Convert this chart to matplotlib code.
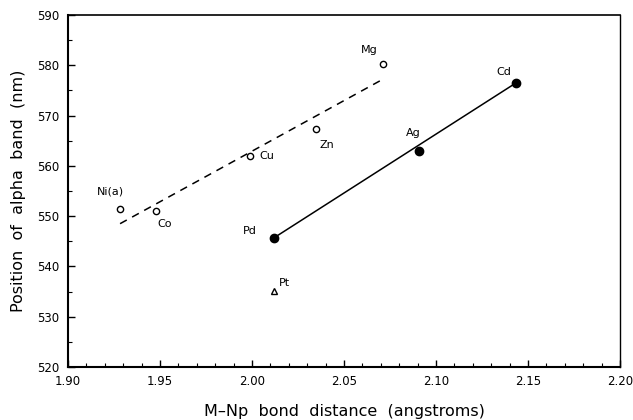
import matplotlib
matplotlib.use("Agg")
import matplotlib.pyplot as plt
from matplotlib.ticker import MultipleLocator

# Data
metals = ["Ni(a)", "Co", "Cu", "Zn", "Mg", "Pd", "Ag", "Cd", "Pt"]
distance = [1.928, 1.948, 1.999, 2.035, 2.071, 2.012, 2.091, 2.1435, 2.012]
alpha_pos = [551.4, 551.0, 562.0, 567.3, 580.2, 545.7, 563.0, 576.5, 535.2]
marker_kind = ["open", "open", "open", "open", "open", "filled", "filled", "filled", "triangle"]

# Fitted lines (endpoints)
dashed_x = [1.9283, 2.0705]
dashed_y = [548.5, 577.1]
solid_x = [2.012, 2.1435]
solid_y = [545.7, 576.5]

# Label offsets (pixels) relative to each point
label_offsets = {
    "Ni(a)": (-9, 18), "Co": (8, -13), "Cu": (17, 0), "Zn": (10, -16),
    "Mg": (-13, 14), "Cd": (-12, 11), "Ag": (-6, 18), "Pd": (-24, 7), "Pt": (10, 8),
}

fig = plt.figure(figsize=(6.33, 4.2), dpi=100)
ax = fig.add_axes([68 / 633, 1 - 367 / 420, (620 - 68) / 633, (367 - 15) / 420])

ax.plot(dashed_x, dashed_y, linestyle=(0, (5, 4)), color="black", lw=1.1)
ax.plot(solid_x, solid_y, linestyle="-", color="black", lw=1.1)

for m, x, y, k in zip(metals, distance, alpha_pos, marker_kind):
    if k == "open":
        ax.plot(x, y, marker="o", ms=4.5, mfc="white", mec="black", mew=1.0, zorder=3)
    elif k == "filled":
        ax.plot(x, y, marker="o", ms=6, mfc="black", mec="black", zorder=3)
    else:
        ax.plot(x, y, marker="^", ms=4.5, mfc="white", mec="black", mew=1.0, zorder=3)
    dx, dy = label_offsets[m]
    ax.annotate(m, (x, y), xytext=(dx, dy), textcoords="offset pixels",
                ha="center", va="center", fontsize=8)

ax.set_xlim(1.90, 2.20)
ax.set_ylim(520, 590)
ax.xaxis.set_major_locator(MultipleLocator(0.05))
ax.xaxis.set_minor_locator(MultipleLocator(0.01))
ax.yaxis.set_major_locator(MultipleLocator(10))
ax.yaxis.set_minor_locator(MultipleLocator(5))
ax.xaxis.set_major_formatter(matplotlib.ticker.FormatStrFormatter("%.2f"))
ax.tick_params(which="both", direction="in", top=False, right=False, labelsize=8.5)
ax.tick_params(which="major", length=5, width=1.0, pad=6)
ax.tick_params(which="minor", length=3, width=0.8)

ax.spines["left"].set_linewidth(1.5)
ax.spines["bottom"].set_linewidth(1.5)
ax.spines["top"].set_linewidth(1.2)
ax.spines["right"].set_linewidth(1.0)

ax.set_xlabel("M\u2013Np  bond  distance  (angstroms)", fontsize=11.5, labelpad=11)
ax.set_ylabel("Position  of  alpha  band  (nm)", fontsize=11.5, labelpad=8)

fig.savefig("out.png", dpi=100)
